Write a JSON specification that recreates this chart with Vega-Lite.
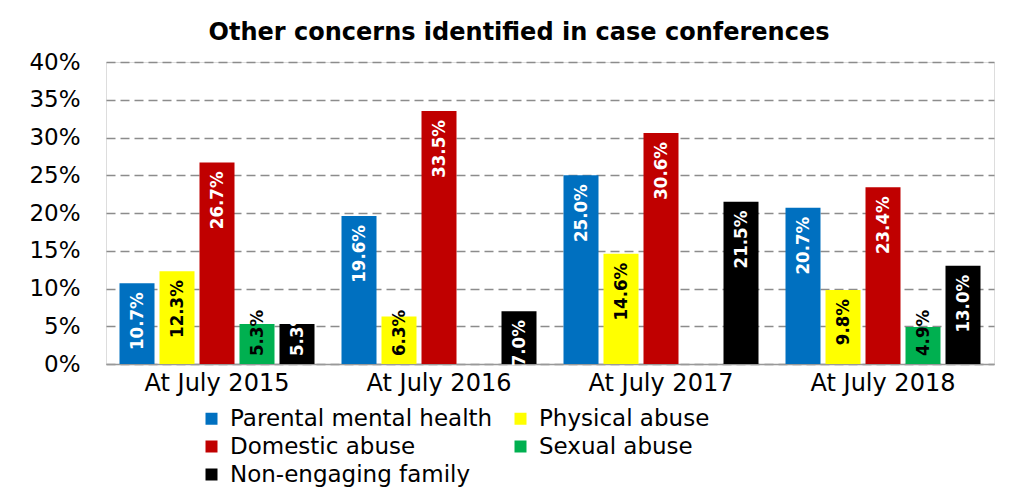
{
  "$schema": "https://vega.github.io/schema/vega-lite/v6.json",
  "width": 888,
  "height": 302,
  "autosize": {"type": "none"},
  "padding": {"left": 106, "top": 62, "right": 15, "bottom": 126},
  "background": "white",
  "title": {
    "text": "Other concerns identified in case conferences",
    "anchor": "middle",
    "frame": "group",
    "dx": -31,
    "offset": -13,
    "baseline": "alphabetic",
    "font": "DejaVu Sans",
    "fontSize": 24,
    "fontWeight": "bold",
    "color": "black"
  },
  "data": {
    "values": [
      {"year": "At July 2015", "concern": "Parental mental health", "value": 0.107},
      {"year": "At July 2015", "concern": "Physical abuse", "value": 0.123},
      {"year": "At July 2015", "concern": "Domestic abuse", "value": 0.267},
      {"year": "At July 2015", "concern": "Sexual abuse", "value": 0.053},
      {"year": "At July 2015", "concern": "Non-engaging family", "value": 0.053},
      {"year": "At July 2016", "concern": "Parental mental health", "value": 0.196},
      {"year": "At July 2016", "concern": "Physical abuse", "value": 0.063},
      {"year": "At July 2016", "concern": "Domestic abuse", "value": 0.335},
      {"year": "At July 2016", "concern": "Non-engaging family", "value": 0.070},
      {"year": "At July 2017", "concern": "Parental mental health", "value": 0.250},
      {"year": "At July 2017", "concern": "Physical abuse", "value": 0.146},
      {"year": "At July 2017", "concern": "Domestic abuse", "value": 0.306},
      {"year": "At July 2017", "concern": "Non-engaging family", "value": 0.215},
      {"year": "At July 2018", "concern": "Parental mental health", "value": 0.207},
      {"year": "At July 2018", "concern": "Physical abuse", "value": 0.098},
      {"year": "At July 2018", "concern": "Domestic abuse", "value": 0.234},
      {"year": "At July 2018", "concern": "Sexual abuse", "value": 0.049},
      {"year": "At July 2018", "concern": "Non-engaging family", "value": 0.130}
    ]
  },
  "encoding": {
    "x": {
      "field": "year",
      "type": "nominal",
      "sort": null,
      "scale": {"paddingInner": 0, "paddingOuter": 0},
      "axis": {
        "title": null,
        "labelAngle": 0,
        "domain": true,
        "domainColor": "#999999",
        "domainWidth": 1.5,
        "ticks": false,
        "tickSize": 0,
        "labelPadding": 7,
        "labelFont": "DejaVu Sans",
        "labelFontSize": 24,
        "labelColor": "black"
      }
    },
    "xOffset": {
      "field": "concern",
      "type": "nominal",
      "sort": ["Parental mental health", "Physical abuse", "Domestic abuse", "Sexual abuse", "Non-engaging family"],
      "scale": {
        "domain": ["Parental mental health", "Physical abuse", "Domestic abuse", "Sexual abuse", "Non-engaging family"],
        "paddingInner": 0.125,
        "paddingOuter": 0.3375
      }
    },
    "y": {
      "field": "value",
      "type": "quantitative",
      "scale": {"domain": [0, 0.4], "nice": false},
      "axis": {
        "title": null,
        "values": [0, 0.05, 0.1, 0.15, 0.2, 0.25, 0.3, 0.35, 0.4],
        "format": ".0%",
        "grid": true,
        "gridDash": [9, 5],
        "gridColor": "#8c8c8c",
        "gridWidth": 1.5,
        "domain": false,
        "ticks": false,
        "tickSize": 0,
        "labelPadding": 26,
        "labelFont": "DejaVu Sans",
        "labelFontSize": 23,
        "labelColor": "black"
      }
    }
  },
  "layer": [
    {
      "mark": {"type": "bar"},
      "encoding": {
        "color": {
          "field": "concern",
          "type": "nominal",
          "scale": {
            "domain": ["Parental mental health", "Physical abuse", "Domestic abuse", "Sexual abuse", "Non-engaging family"],
            "range": ["#0070C0", "#FFFF00", "#C00000", "#00B050", "#000000"]
          },
          "legend": {
            "title": null,
            "orient": "none",
            "legendX": 94,
            "legendY": 345,
            "direction": "horizontal",
            "columns": 2,
            "columnPadding": 16,
            "rowPadding": 4,
            "symbolType": "square",
            "symbolSize": 144,
            "symbolStrokeWidth": 0,
            "labelOffset": 7,
            "labelFont": "DejaVu Sans",
            "labelFontSize": 23,
            "labelColor": "black",
            "labelLimit": 400
          }
        }
      }
    },
    {
      "transform": [{"filter": "datum.value >= 0.065"}],
      "mark": {
        "type": "text",
        "angle": 270,
        "align": "right",
        "baseline": "middle",
        "dx": -9,
        "font": "DejaVu Sans Condensed, sans-serif",
        "fontSize": 18.5,
        "fontWeight": "bold"
      },
      "encoding": {
        "text": {"field": "value", "type": "quantitative", "format": ".1%"},
        "color": {
          "condition": {"test": "datum.concern === 'Physical abuse' || datum.concern === 'Sexual abuse'", "value": "black"},
          "value": "white"
        }
      }
    },
    {
      "transform": [{"filter": "datum.value < 0.065"}],
      "mark": {
        "type": "text",
        "angle": 270,
        "align": "left",
        "baseline": "middle",
        "dx": 8,
        "font": "DejaVu Sans Condensed, sans-serif",
        "fontSize": 18.5,
        "fontWeight": "bold"
      },
      "encoding": {
        "y": {"datum": 0, "type": "quantitative"},
        "text": {"field": "value", "type": "quantitative", "format": ".1%"},
        "color": {
          "condition": {"test": "datum.concern === 'Physical abuse' || datum.concern === 'Sexual abuse'", "value": "black"},
          "value": "white"
        }
      }
    }
  ]
}
